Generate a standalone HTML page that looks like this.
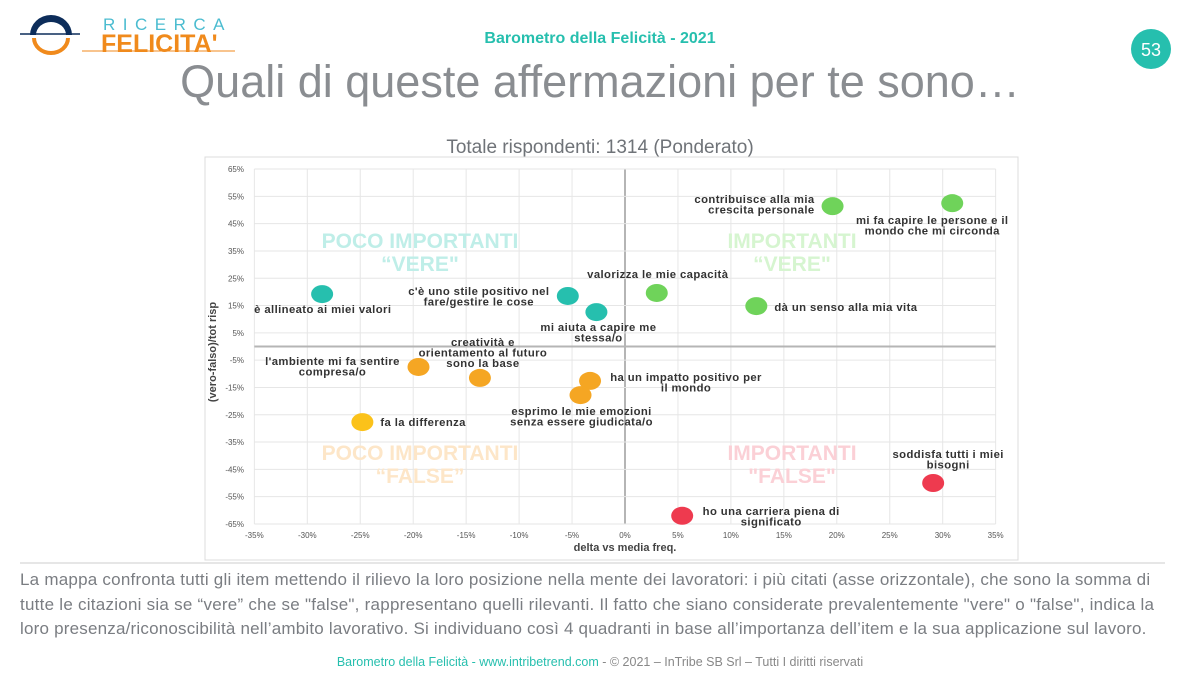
<!DOCTYPE html>
<html><head><meta charset="utf-8"><style>
body{margin:0;width:1200px;height:675px;background:#fff;overflow:hidden;font-family:"Liberation Sans",sans-serif;position:relative}
.abs{position:absolute}
</style></head><body>
<svg class="abs" style="left:0;top:0" width="1200" height="675">
  <g>
    <path d="M30 35 A21 20 0 0 1 72 35 L66 35 A15 13 0 0 0 36 35 Z" fill="#0d2d5a"/>
    <line x1="20" y1="34" x2="80" y2="34" stroke="#0d2d5a" stroke-width="1.5"/>
    <path d="M32 38 A19 17 0 0 0 70 38 L66 38 A15 13 0 1 1 36 38 Z" fill="#f08a1c"/>
    <text x="103" y="30" font-size="17" fill="#4bbcd0" letter-spacing="7.5">RICERCA</text>
    <text x="101" y="52" font-size="25" font-weight="bold" fill="#f08a1c">FELICITA'</text>
    <line x1="82" y1="51" x2="235" y2="51" stroke="#f08a1c" stroke-width="1"/>
  </g>
  <text x="600" y="43" text-anchor="middle" font-size="16" font-weight="bold" fill="#26bfae">Barometro della Felicità - 2021</text>
  <circle cx="1151" cy="49" r="20" fill="#26bfae"/>
  <text x="1151" y="56" text-anchor="middle" font-size="18" fill="#fff">53</text>
  <text x="600" y="97" text-anchor="middle" font-size="45" fill="#8a8d91">Quali di queste affermazioni per te sono…</text>
  <text x="600" y="153" text-anchor="middle" font-size="19" fill="#6f7378">Totale rispondenti: 1314 (Ponderato)</text>
  <rect x="205" y="157" width="813" height="403" fill="#fff" stroke="#dcdcdc"/>
  <g id="chart"></g>
  <line x1="20" y1="563" x2="1165" y2="563" stroke="#ccc" stroke-width="1"/>
  <text x="600" y="666" text-anchor="middle" font-size="12.5" fill="#26bfae">Barometro della Felicità - www.intribetrend.com <tspan fill="#888">- © 2021 – InTribe SB Srl – Tutti I diritti riservati</tspan></text>
</svg>
<div class="abs" style="left:20px;top:568px;width:1170px;font-size:17px;line-height:24.5px;color:#7a7d82;white-space:nowrap"><span style="display:inline-block;letter-spacing:0.23px">La mappa confronta tutti gli item mettendo il rilievo la loro posizione nella mente dei lavoratori: i più citati (asse orizzontale), che sono la somma di</span><br><span style="display:inline-block;letter-spacing:0.25px">tutte le citazioni sia se “vere” che se "false", rappresentano quelli rilevanti. Il fatto che siano considerate prevalentemente "vere" o "false",  indica la</span><br><span style="display:inline-block;letter-spacing:0.2px">loro presenza/riconoscibilità nell’ambito lavorativo. Si individuano così 4 quadranti in base all’importanza dell’item e la sua applicazione sul lavoro.</span></div>
<script>
const xTicks=[-35,-30,-25,-20,-15,-10,-5,0,5,10,15,20,25,30,35];
const yTicks=[65,55,45,35,25,15,5,-5,-15,-25,-35,-45,-55,-65];
const labels=["è allineato ai miei valori","c'è uno stile positivo nel|fare/gestire le cose","mi aiuta a capire me|stessa/o","valorizza le mie capacità","dà un senso alla mia vita","contribuisce alla mia|crescita personale","mi fa capire le persone e il|mondo che mi circonda","l'ambiente mi fa sentire|compresa/o","creatività e|orientamento al futuro|sono la base","ha un impatto positivo per|il mondo","esprimo le mie emozioni|senza essere giudicata/o","fa la differenza","soddisfa tutti i miei|bisogni","ho una carriera piena di|significato"];
const xVals=[-28.6,-5.4,-2.7,3.0,12.4,19.6,30.9,-19.5,-13.7,-3.3,-4.2,-24.8,29.1,5.4];
const yVals=[19.2,18.5,12.6,19.6,14.8,51.4,52.5,-7.5,-11.5,-12.6,-17.8,-27.7,-50,-62];
const colors=["#26bfae","#26bfae","#26bfae","#6fd35a","#6fd35a","#6fd35a","#6fd35a","#f5a623","#f5a623","#f5a623","#f5a623","#fbc21a","#ee3a4f","#ee3a4f"];
// label anchor offsets (layout, not data)
const lblPos=[[-68,19,"start"],[-89,-1,"middle"],[2,19,"middle"],[1,-15,"middle"],[18,5,"start"],[-18,-3,"end"],[-20,21,"middle"],[-86,-2,"middle"],[3,-32,"middle"],[96,0,"middle"],[1,20,"middle"],[18,4,"start"],[15,-25,"middle"],[89,-1,"middle"]];
const NS="http://www.w3.org/2000/svg";
const g=document.getElementById('chart');
const X=v=>625+v*10.59, Y=v=>346.5-v*2.73;
function mk(t,a){const e=document.createElementNS(NS,t);for(const k in a)e.setAttribute(k,a[k]);g.appendChild(e);return e;}
xTicks.forEach(t=>{const l=mk('line',{x1:X(t),x2:X(t),y1:Y(65),y2:Y(-65),stroke:t===0?'#b5b5b5':'#e6e6e6','stroke-width':t===0?2:1});

const tx=mk('text',{x:X(t),y:538,'text-anchor':'middle','font-size':8,fill:'#555'});tx.textContent=t+'%';
});
yTicks.forEach(t=>{const l=mk('line',{x1:X(-35),x2:X(35),y1:Y(t),y2:Y(t),stroke:'#e6e6e6'});

const tx=mk('text',{x:244,y:Y(t)+3,'text-anchor':'end','font-size':8,fill:'#555'});tx.textContent=t+'%';
});
const z=mk('line',{x1:X(-35),x2:X(35),y1:Y(0),y2:Y(0),stroke:'#b5b5b5','stroke-width':2});

[[420,248,'POCO IMPORTANTI','“VERE"','#bfeee8'],[792,248,'IMPORTANTI','“VERE"','#d6f5d0'],[420,460,'POCO IMPORTANTI','“FALSE”','#fde6c8'],[792,460,'IMPORTANTI','"FALSE"','#fbd0d6']].forEach(q=>{
[q[2],q[3]].forEach((s,i)=>{const t=mk('text',{x:q[0],y:q[1]+i*23,'text-anchor':'middle','font-size':21,'font-weight':'bold',fill:q[4]});t.textContent=s;
});});
const xl=mk('text',{x:625,y:551,'text-anchor':'middle','font-size':11,'font-weight':'bold',fill:'#444'});xl.textContent='delta vs media freq.';

const yl=mk('text',{x:0,y:0,transform:'translate(216,352) rotate(-90)','text-anchor':'middle','font-size':11,'font-weight':'bold',fill:'#444'});yl.textContent='(vero-falso)/tot risp';

xVals.forEach((v,i)=>{const c=mk('ellipse',{cx:X(v),cy:Y(yVals[i]),rx:11,ry:9,fill:colors[i]});

const p=lblPos[i];const lines=labels[i].split('|');
lines.forEach((s,j)=>{const t=mk('text',{x:X(v)+p[0],y:Y(yVals[i])+p[1]+j*10.5,'text-anchor':p[2],'font-size':11.3,'font-weight':'bold','letter-spacing':0.4,fill:'#333'});t.textContent=s;
});});
</script>
</body></html>
